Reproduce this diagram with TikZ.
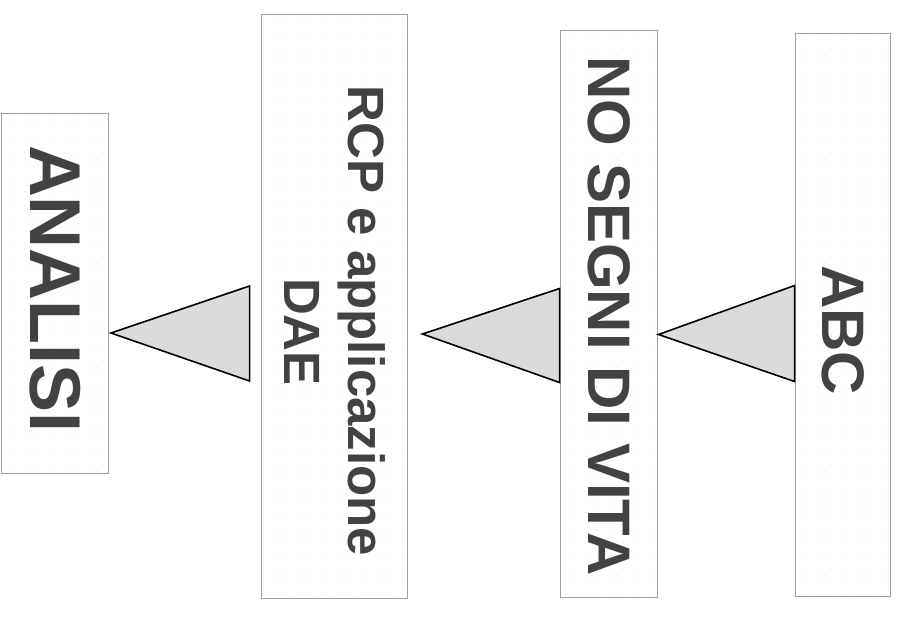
\documentclass[tikz,border=0pt]{standalone}
\usepackage{fontspec}
\setmainfont{Liberation Sans}
\usetikzlibrary{calc,patterns.meta}
\begin{document}
\begin{tikzpicture}[x=1pt,y=-1pt,
  box/.style={draw=gray!75,line width=0.9pt,fill=white,
    postaction={pattern={Dots[distance=13pt,radius=0.5pt]},pattern color=gray!45},
    inner sep=0pt,rectangle},
  lbl/.style={rotate=-90,text=black!74,font=\bfseries,align=center,inner sep=0pt},
  tri/.style={draw=black,line width=1.6pt,fill=gray!28,line join=miter}]
\useasboundingbox (0,0) rectangle (901,633);
\fill[white] (0,0) rectangle (901,633);
% boxes
\node[box,minimum width=107pt,minimum height=360pt] (analisi) at (55,293) {};
\node[box,minimum width=146pt,minimum height=584pt] (rcp) at (334,306) {};
\node[box,minimum width=97pt,minimum height=567pt] (nosegni) at (608.5,313.5) {};
\node[box,minimum width=95pt,minimum height=563pt] (abc) at (842.5,314.5) {};
% labels
\node[lbl,font=\bfseries\fontsize{72}{86}\selectfont] (tanalisi) at (55,289) {ANALISI};
\node[lbl,font=\bfseries\fontsize{51}{64}\selectfont] (trcp) at (335,321) {RCP e applicazione\\\hspace*{22pt}DAE};
\node[lbl,font=\bfseries\fontsize{60}{72}\selectfont] (tnosegni) at (609,316) {NO SEGNI DI VITA};
\node[lbl,font=\bfseries\fontsize{60}{72}\selectfont] (tabc) at (843,330) {ABC};
% triangles (connectors)
\coordinate (t1tip) at ($(analisi.east)+(2,40)$);
\coordinate (t1a) at ($(rcp.west)+(-11,-20)$);
\coordinate (t1b) at ($(rcp.west)+(-11,75)$);
\draw[tri] (t1tip) -- (t1a) -- (t1b) -- cycle;
\coordinate (t2tip) at ($(rcp.east)+(15,28)$);
\coordinate (t2a) at ($(nosegni.west)+(0,-25)$);
\coordinate (t2b) at ($(nosegni.west)+(0,69)$);
\draw[tri] (t2tip) -- (t2a) -- (t2b) -- cycle;
\coordinate (t3tip) at ($(nosegni.east)+(1,21)$);
\coordinate (t3a) at ($(abc.west)+(0,-29)$);
\coordinate (t3b) at ($(abc.west)+(0,67)$);
\draw[tri] (t3tip) -- (t3a) -- (t3b) -- cycle;
\end{tikzpicture}
\end{document}
